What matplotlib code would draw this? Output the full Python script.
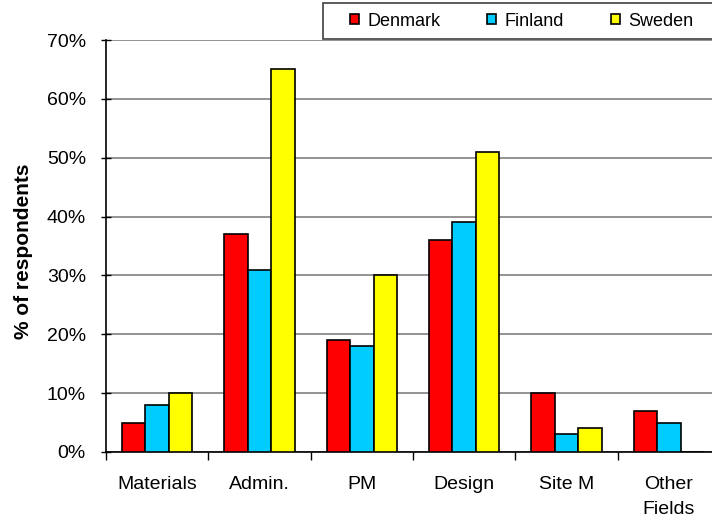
import numpy as np
import matplotlib
matplotlib.use("Agg")
import matplotlib.pyplot as plt
from matplotlib.patches import Rectangle
from matplotlib.ticker import FuncFormatter

plt.rcParams["font.family"] = ["Liberation Sans", "DejaVu Sans"]

categories = ["Materials", "Admin.", "PM", "Design", "Site M", "Other\nFields"]
denmark = [5, 37, 19, 36, 10, 7]
finland = [8, 31, 18, 39, 3, 5]
sweden = [10, 65, 30, 51, 4, 0]

series = [("Denmark", denmark, "#ff0000"),
          ("Finland", finland, "#00ccff"),
          ("Sweden", sweden, "#ffff00")]

fig = plt.figure(figsize=(7.12, 5.2), dpi=100)
# plot area runs a bit past the right edge of the picture
ax = fig.add_axes([106 / 712, 68 / 520, 614 / 712, 412 / 520])

x = np.arange(len(categories))
w = 0.23
for i, (name, vals, col) in enumerate(series):
    ax.bar(x + (i - 1) * w, vals, w, color=col, edgecolor="black",
           linewidth=1.2, label=name, zorder=3)

ax.set_xlim(-0.5, len(categories) - 0.5)
ax.set_ylim(0, 70)
ax.set_yticks(range(0, 71, 10))
ax.yaxis.set_major_formatter(FuncFormatter(lambda v, p: f"{v:.0f}%"))
ax.grid(axis="y", color="#808080", linewidth=1.2, zorder=0)

ax.set_xticks(x)
ax.set_xticklabels(categories, fontsize=14, linespacing=1.65)
ax.tick_params(axis="x", length=0, pad=17)
ax.set_xticks(np.arange(-0.5, len(categories)), minor=True)
ax.tick_params(axis="x", which="minor", length=6, direction="out", width=1)
ax.tick_params(axis="y", labelsize=14, length=7, direction="inout", width=1, pad=11)

for s in ["top", "right"]:
    ax.spines[s].set_visible(False)
ax.spines["left"].set_linewidth(1.2)
ax.spines["bottom"].set_linewidth(1.2)

ax.set_ylabel("% of respondents", fontsize=15, fontweight="bold")
ax.yaxis.set_label_coords(-0.119, 0.487)

# legend box, cut off at the right edge like the original
fig.patches.append(Rectangle((323 / 712, 481 / 520), 420 / 712, 36 / 520,
                             transform=fig.transFigure, facecolor="white",
                             edgecolor="#404040", linewidth=1.2, zorder=5))
leg = fig.legend(loc="center left", ncol=3,
                 bbox_to_anchor=(350 / 712, 499 / 520),
                 bbox_transform=fig.transFigure, fontsize=13,
                 frameon=False, borderpad=0, borderaxespad=0,
                 handlelength=0.5, handleheight=0.5, handletextpad=0.45,
                 columnspacing=2.6)
leg.set_zorder(6)

fig.savefig("out.png", dpi=100)
